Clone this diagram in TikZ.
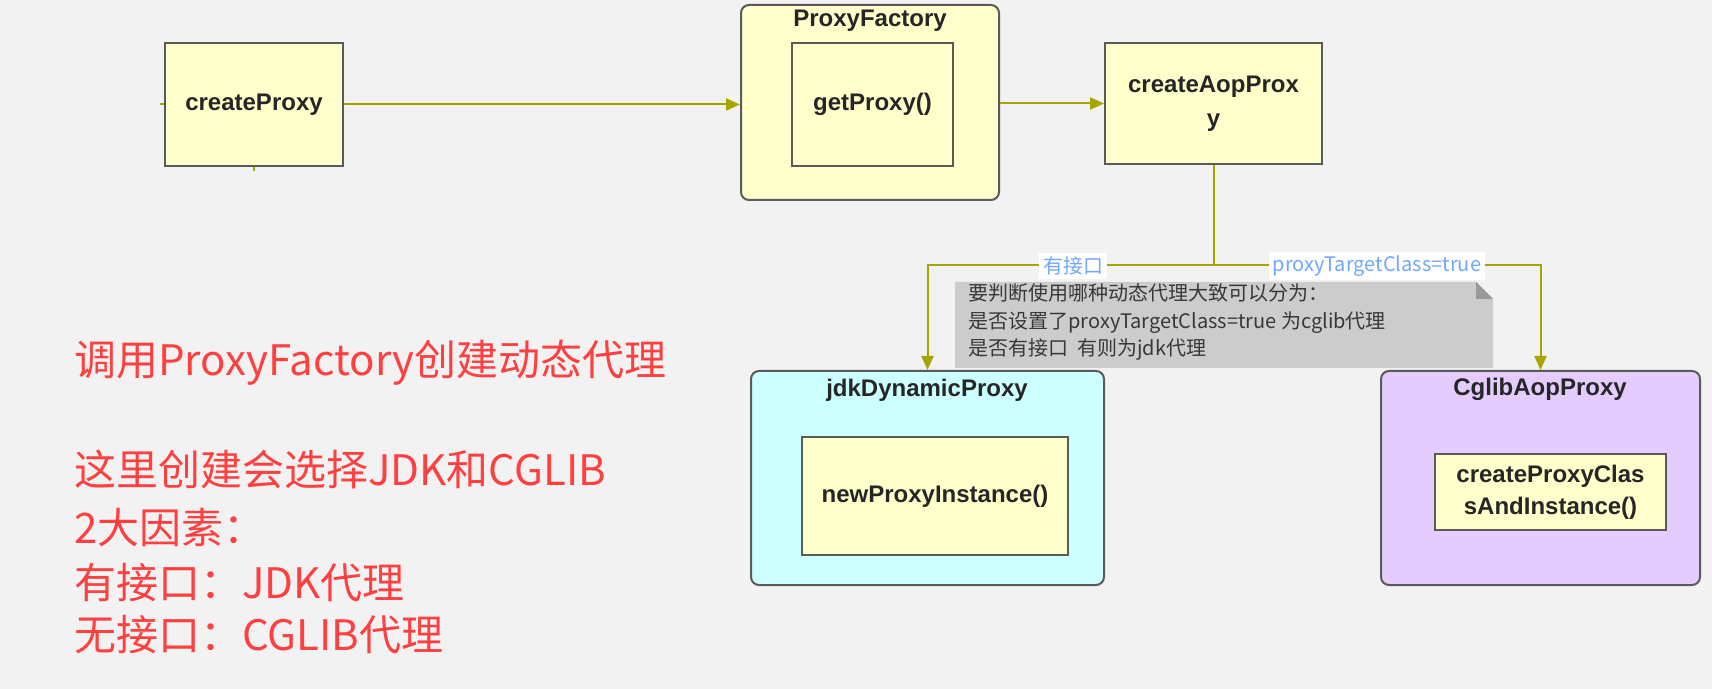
\documentclass[tikz,border=0pt]{standalone}
\usepackage{fontspec}
\setmainfont{Liberation Sans}
\newfontfamily\cjk{Noto Sans CJK SC}
\usetikzlibrary{arrows.meta}
\definecolor{bgc}{HTML}{F2F2F2}
\definecolor{yellowc}{HTML}{FFFFCC}
\definecolor{cyanc}{HTML}{CCFFFF}
\definecolor{lavc}{HTML}{E5CCFF}
\definecolor{bord}{HTML}{5A5A5A}
\definecolor{olivec}{HTML}{A6A600}
\definecolor{notec}{HTML}{CCCCCC}
\definecolor{flapc}{HTML}{999999}
\definecolor{notetxt}{HTML}{383838}
\definecolor{bluec}{HTML}{6FA8FF}
\definecolor{redc}{HTML}{FF4040}
\begin{document}
\begin{tikzpicture}[x=0.5pt,y=-0.5pt,
  outerbox/.style={draw=bord, line width=1pt, rounded corners=4pt, inner sep=0pt},
  innerbox/.style={draw=bord, line width=0.9pt, fill=yellowc, inner sep=0pt},
  boxtext/.style={font=\fontsize{12}{17}\selectfont\bfseries, align=center, text=black!85},
  titletext/.style={font=\fontsize{12}{14}\selectfont\bfseries, text=black!85, inner sep=0pt},
  conn/.style={draw=olivec, line width=1pt, -{Triangle[length=7pt,width=6pt]}},
  plainconn/.style={draw=olivec, line width=1pt},
  lbl/.style={fill=white, text=bluec, font=\cjk\fontsize{10}{12}\selectfont, inner sep=2pt},
  notetext/.style={anchor=base west, font=\cjk\fontsize{10}{12}\selectfont, text=notetxt, inner sep=0pt},
  redtext/.style={anchor=base west, font=\cjk\fontsize{21}{25}\selectfont, text=redc, inner sep=0pt}]
\useasboundingbox (0,0) rectangle (1712,689);
\fill[bgc] (0,0) rectangle (1712,689);

% top row
\node[innerbox, boxtext, minimum width=89pt, minimum height=61.5pt] (cp) at (254,104.5) {createProxy};
\node[outerbox, fill=yellowc, minimum width=129pt, minimum height=97.5pt] (pf) at (870,102.5) {};
\node[titletext] (pftitle) at (870,21) {ProxyFactory};
\node[innerbox, boxtext, minimum width=80.5pt, minimum height=61.5pt] (gp) at (872.5,104.5) {getProxy()};
\node[innerbox, boxtext, minimum width=108.5pt, minimum height=60.5pt] (aop) at (1213.5,103.5) {createAopProx\\y};

% bottom containers
\node[outerbox, fill=cyanc, minimum width=176.5pt, minimum height=107pt] (jdk) at (927.5,478) {};
\node[titletext] (jdktitle) at (927,390) {jdkDynamicProxy};
\node[innerbox, boxtext, minimum width=133pt, minimum height=59pt] (npi) at (935,496) {newProxyInstance()};

\node[outerbox, fill=lavc, minimum width=159.5pt, minimum height=107pt] (cglib) at (1540.5,478) {};
\node[titletext] (cglibtitle) at (1540,389) {CglibAopProxy};
\node[innerbox, boxtext, minimum width=115.5pt, minimum height=38pt, font=\fontsize{12}{16}\selectfont\bfseries] (cpc) at (1550.5,492) {createProxyClas\\sAndInstance()};

% connectors
\draw[conn] (cp.east) -- (cp.east -| pf.west);
\draw[conn] (pf.east |- aop.west) -- (aop.west);
\coordinate (split) at (1213.5,265);
\draw[plainconn] (aop.south) -- (split);
\draw[conn] (split) -| (jdk.north);
\draw[conn] (split) -| (cglib.north);
\draw[plainconn] (cp.west) -- ++(-4,0);
\draw[plainconn] (cp.south) -- ++(0,4);

% note
\coordinate (note) at (955,282);
\fill[notec] (note) -- (1476,282) -- (1493,299) -- (1493,368) -- (955,368) -- cycle;
\fill[flapc] (1476,282) -- (1493,299) -- (1476,299) -- cycle;
\node[notetext] (n1) at (968,301) {要判断使用哪种动态代理大致可以分为：};
\node[notetext] (n2) at (968,329) {是否设置了proxyTargetClass=true 为cglib代理};
\node[notetext] (n3) at (968,356) {是否有接口\ \ 有则为jdk代理};

% labels
\node[lbl] (l1) at (1073,266) {有接口};
\node[lbl] (l2) at (1377,266) {proxyTargetClass=true};

% red text
\node[redtext] (r1) at (74,376) {调用ProxyFactory创建动态代理};
\node[redtext] (r2) at (74,485) {这里创建会选择JDK和CGLIB};
\node[redtext] (r3) at (74,543) {2大因素：};
\node[redtext] (r4) at (74,598) {有接口：JDK代理};
\node[redtext] (r5) at (74,650) {无接口：CGLIB代理};
\end{tikzpicture}
\end{document}
